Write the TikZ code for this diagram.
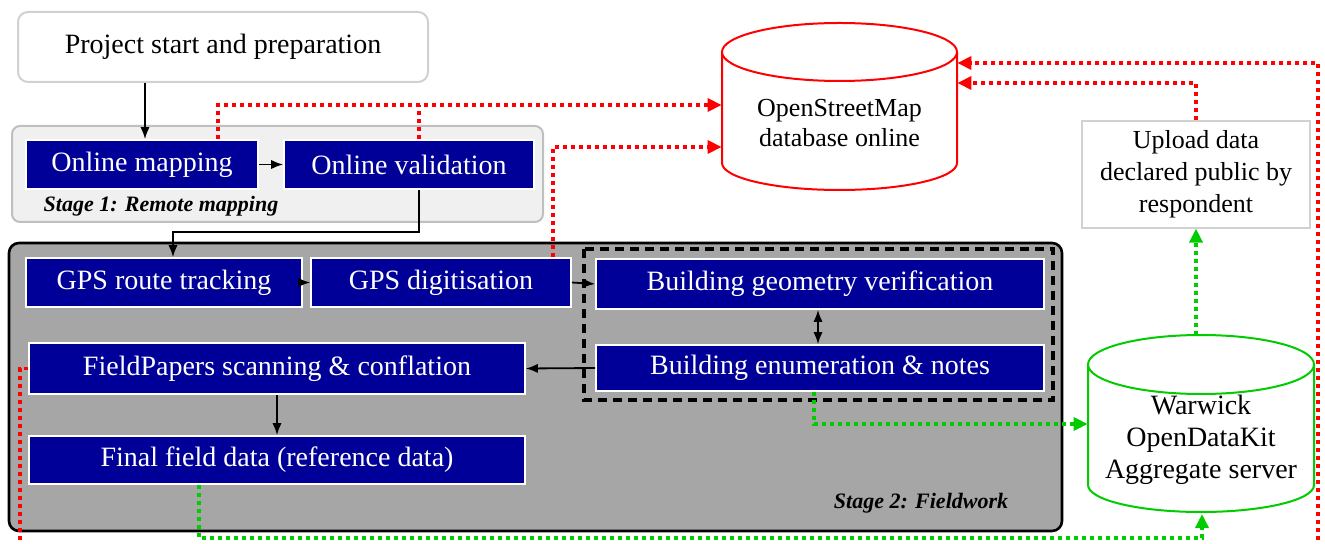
\documentclass[tikz,border=0pt]{standalone}
\usepackage{fontspec}
\setmainfont{Liberation Serif}
\usepackage{tikz}
\usetikzlibrary{arrows.meta}

\definecolor{boxblue}{RGB}{0,0,153}
\definecolor{osmred}{RGB}{255,0,0}
\definecolor{odkgreen}{RGB}{0,204,0}
\definecolor{fieldgray}{RGB}{166,166,166}
\definecolor{remotegray}{RGB}{240,240,240}

\tikzset{
  taskbox/.style={fill=boxblue, draw=white, line width=0.8pt, text=white, inner sep=0pt, font=\fontsize{14}{16}\selectfont},
  startbox/.style={fill=white, draw=black!18, line width=1pt, rounded corners=5pt, inner sep=0pt, font=\fontsize{14}{16}\selectfont},
  notebox/.style={fill=white, draw=black!18, line width=0.6pt, inner sep=0pt, align=center, font=\fontsize{13}{16}\selectfont},
  dbtext/.style={inner sep=0pt, align=center},
  stagelbl/.style={inner sep=0pt, font=\fontsize{11}{13}\selectfont\bfseries\itshape},
  flow/.style={draw=black, line width=0.9pt, -{Latex[length=6pt,width=4.6pt]}},
  osmflow/.style={draw=osmred, line width=1.8pt, dash pattern=on 2pt off 2pt},
  odkflow/.style={draw=odkgreen, line width=1.8pt, dash pattern=on 2pt off 2pt},
  bigtip/.style={-{Triangle[length=7pt,width=6.5pt]}}
}

\begin{document}
\begin{tikzpicture}[x=0.5pt,y=0.5pt,yscale=-1]
\useasboundingbox (0,0) rectangle (1325,544);

%Stage frames
\draw [fill=remotegray, draw=black!25, line width=1pt, rounded corners=4pt] (12,126) rectangle (543,222) ;
\draw [fill=fieldgray, draw=black, line width=1.3pt, rounded corners=5pt] (9,243) rectangle (1062,531) ;
%Building group
\draw [draw=black, line width=1.6pt, dash pattern={on 4.5pt off 3pt}] (584,249) rectangle (1053,400) ;

%Database: OpenStreetMap
\draw [draw=osmred, line width=1pt, fill=white] (722,52) -- (722,163) arc [start angle=180, end angle=0, x radius=117.5, y radius=27] -- (957,52) ;
\draw [draw=osmred, line width=1pt, fill=white] (839.5,52) ellipse [x radius=117.5, y radius=29] ;
%Database: Warwick ODK
\draw [draw=odkgreen, line width=1pt, fill=white] (1088,364.5) -- (1088,485) arc [start angle=180, end angle=0, x radius=113, y radius=27] -- (1314,364.5) ;
\draw [draw=odkgreen, line width=1pt, fill=white] (1201,364.5) ellipse [x radius=113, y radius=29.5] ;
\coordinate (waretop) at (1196,335) ;
\coordinate (warebot) at (1202,514) ;

% Text Node
\draw (223,47) node [startbox, minimum width=205pt, minimum height=35pt] (start) {Project start and preparation};
% Text Node
\draw (142,164.5) node [taskbox, minimum width=116pt, minimum height=24.5pt] (map) {Online mapping};
% Text Node
\draw (409,164.5) node [taskbox, minimum width=125pt, minimum height=24.5pt] (vali) {Online validation};
% Text Node
\draw (161,206) node [stagelbl] (s1lbl) {Stage 1: Remote mapping};
% Text Node
\draw (164,282.5) node [taskbox, minimum width=138pt, minimum height=24.5pt] (track) {GPS route tracking};
% Text Node
\draw (441,282.5) node [taskbox, minimum width=130pt, minimum height=24.5pt] (digi) {GPS digitisation};
% Text Node
\draw (820,284) node [taskbox, minimum width=224pt, minimum height=25pt] (geom) {Building geometry verification};
% Text Node
\draw (820,368) node [taskbox, minimum width=224pt, minimum height=23pt] (enum) {Building enumeration \& notes};
% Text Node
\draw (277,368.5) node [taskbox, minimum width=248pt, minimum height=25.5pt] (paper) {FieldPapers scanning \& conflation};
% Text Node
\draw (277,460) node [taskbox, minimum width=248pt, minimum height=24pt] (final) {Final field data (reference data)};
% Text Node
\draw (921,503) node [stagelbl] (s2lbl) {Stage 2: Fieldwork};
% Text Node
\draw (1196,174.5) node [notebox, minimum width=114pt, minimum height=53.5pt] (upload) {Upload data\\declared public by\\respondent};
% Text Node
\draw (839.5,123) node [dbtext, minimum width=117.5pt, font=\fontsize{13}{15}\selectfont] (osm) {OpenStreetMap\\database online};
% Text Node
\draw (1201,440) node [dbtext, minimum width=113pt, font=\fontsize{14}{16}\selectfont] (ware) {Warwick\\OpenDataKit\\Aggregate server};

%Straight Lines
\draw [flow] (start.south -| 145,0) -- (map.north -| 145,0) ;
\draw [flow] (map.east) -- (vali.east -| vali.west) ;
\draw [flow] (vali.south -| 419,0) -- (419,232) -| (track.north -| 173,0) ;
\draw [flow] (track.east) -- (digi.west) ;
\draw [flow] (digi.east) -- (geom.west) ;
\draw [flow, {Latex[length=6pt,width=4.6pt]}-{Latex[length=6pt,width=4.6pt]}] (geom.south -| 818,0) -- (enum.north -| 818,0) ;
\draw [flow] (enum.west) -- (paper.east) ;
\draw [flow] (paper.south) -- (final.north) ;

%Dotted Lines: upload to OSM
\draw [osmflow, bigtip] (map.north -| 218,0) |- (osm.west |- 0,105) ;
\draw [osmflow] (vali.north -| 419,0) -- (419,105) ;
\draw [osmflow, bigtip] (digi.north -| 553,0) |- (osm.west |- 0,147) ;
\draw [osmflow, bigtip] (paper.west) -| (20,565) -| (1318,63) -- (osm.east |- 0,63) ;
\draw [osmflow, bigtip] (upload.north) |- (osm.east |- 0,83) ;

%Dotted Lines: upload to ODK
\draw [odkflow, bigtip] (enum.south -| 814,0) |- (ware.west |- 0,424) ;
\draw [odkflow, bigtip] (final.south -| 199,0) |- (1202,538) -- (warebot) ;
\draw [odkflow, bigtip] (waretop) -- (upload.south) ;

\end{tikzpicture}
\end{document}
